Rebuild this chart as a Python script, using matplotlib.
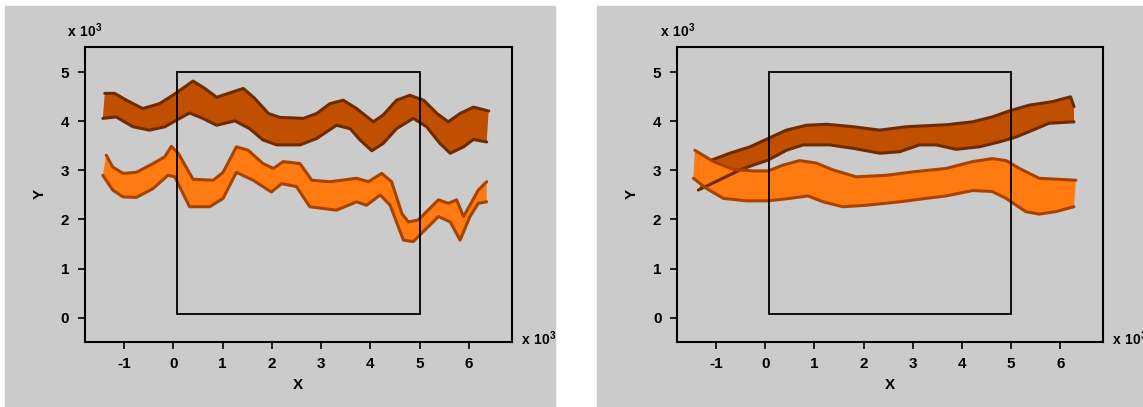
import matplotlib
matplotlib.use("Agg")
import matplotlib.pyplot as plt
from matplotlib.patches import Rectangle

plt.rcParams['font.family'] = ['Liberation Sans', 'DejaVu Sans']
plt.rcParams['font.weight'] = 'bold'
plt.rcParams['axes.unicode_minus'] = False
plt.rcParams['mathtext.fontset'] = 'custom'
plt.rcParams['mathtext.rm'] = 'Liberation Sans'
plt.rcParams['mathtext.bf'] = 'Liberation Sans:bold'

# values in units of 10^3
# left panel, dark band
l_dark_up_x = [-1.39, -1.19, -0.95, -0.62, -0.28, -0.01, 0.40, 0.64, 0.88, 1.15, 1.42, 1.65, 1.93, 2.16, 2.64, 2.91, 3.18, 3.45, 3.72, 4.06, 4.26, 4.53, 4.80, 5.08, 5.35, 5.58, 5.82, 6.09, 6.40]
l_dark_up_y = [4.57, 4.57, 4.43, 4.26, 4.36, 4.53, 4.82, 4.67, 4.49, 4.58, 4.67, 4.47, 4.16, 4.08, 4.06, 4.16, 4.36, 4.43, 4.26, 3.99, 4.13, 4.43, 4.53, 4.43, 4.16, 3.99, 4.16, 4.29, 4.21]
l_dark_lo_x = [-1.43, -1.16, -0.82, -0.48, -0.17, 0.06, 0.33, 0.60, 0.88, 1.25, 1.55, 1.82, 2.10, 2.57, 2.91, 3.31, 3.59, 3.79, 4.03, 4.26, 4.53, 4.87, 5.14, 5.41, 5.62, 5.89, 6.09, 6.36]
l_dark_lo_y = [4.06, 4.09, 3.89, 3.82, 3.89, 4.02, 4.17, 4.06, 3.92, 4.01, 3.85, 3.62, 3.52, 3.52, 3.65, 3.92, 3.85, 3.62, 3.40, 3.55, 3.85, 4.06, 3.89, 3.55, 3.35, 3.48, 3.63, 3.58]

# left panel, orange band
l_or_up_x = [-1.36, -1.23, -1.02, -0.75, -0.41, -0.17, -0.04, 0.10, 0.40, 0.81, 1.01, 1.28, 1.52, 1.82, 2.03, 2.23, 2.57, 2.81, 3.18, 3.72, 3.96, 4.23, 4.43, 4.64, 4.77, 4.97, 5.38, 5.58, 5.75, 5.89, 6.19, 6.36]
l_or_up_y = [3.31, 3.07, 2.94, 2.96, 3.14, 3.28, 3.49, 3.35, 2.82, 2.80, 2.96, 3.48, 3.41, 3.14, 3.04, 3.18, 3.14, 2.80, 2.77, 2.84, 2.77, 2.94, 2.77, 2.12, 1.95, 1.99, 2.40, 2.33, 2.40, 2.06, 2.60, 2.77]
l_or_lo_x = [-1.43, -1.23, -1.02, -0.75, -0.41, -0.11, 0.03, 0.33, 0.74, 1.01, 1.28, 1.62, 1.99, 2.20, 2.50, 2.77, 3.31, 3.72, 3.92, 4.20, 4.40, 4.67, 4.87, 5.14, 5.38, 5.62, 5.82, 6.02, 6.19, 6.36]
l_or_lo_y = [2.90, 2.60, 2.46, 2.45, 2.63, 2.90, 2.87, 2.26, 2.26, 2.43, 2.96, 2.80, 2.56, 2.73, 2.67, 2.26, 2.19, 2.36, 2.29, 2.50, 2.29, 1.58, 1.55, 1.82, 2.06, 1.95, 1.58, 2.06, 2.33, 2.36]

# right panel, dark band
r_dark_up_x = [-1.09, -0.72, -0.31, 0.06, 0.43, 0.84, 1.25, 1.79, 2.33, 2.87, 3.68, 4.22, 4.62, 4.96, 5.37, 5.84, 6.21, 6.28]
r_dark_up_y = [3.21, 3.35, 3.48, 3.65, 3.82, 3.92, 3.94, 3.89, 3.82, 3.89, 3.93, 3.99, 4.09, 4.21, 4.33, 4.40, 4.50, 4.30]
r_dark_lo_x = [-1.36, -0.51, -0.24, 0.06, 0.43, 0.77, 1.31, 1.79, 2.33, 2.73, 3.14, 3.48, 3.88, 4.35, 4.76, 5.10, 5.44, 5.77, 6.28]
r_dark_lo_y = [2.60, 3.01, 3.11, 3.21, 3.41, 3.52, 3.52, 3.45, 3.35, 3.38, 3.52, 3.52, 3.43, 3.48, 3.58, 3.68, 3.82, 3.96, 3.99]

# right panel, orange band
r_or_up_x = [-1.43, -1.05, -0.65, -0.24, 0.06, 0.37, 0.70, 1.04, 1.38, 1.85, 2.46, 3.00, 3.68, 4.22, 4.62, 4.90, 5.17, 5.57, 6.32]
r_or_up_y = [3.41, 3.18, 3.02, 2.99, 2.99, 3.11, 3.20, 3.15, 3.01, 2.87, 2.90, 2.97, 3.04, 3.18, 3.24, 3.20, 3.04, 2.84, 2.80]
r_or_lo_x = [-1.46, -1.19, -0.85, -0.38, 0.06, 0.50, 0.87, 1.18, 1.58, 2.06, 2.73, 3.27, 3.68, 4.22, 4.62, 4.90, 5.30, 5.57, 5.91, 6.28]
r_or_lo_y = [2.84, 2.63, 2.43, 2.38, 2.38, 2.43, 2.48, 2.36, 2.26, 2.29, 2.36, 2.43, 2.48, 2.59, 2.57, 2.43, 2.16, 2.11, 2.16, 2.26]

ticks = [-1, 0, 1, 2, 3, 4, 5, 6]
yticks = [0, 1, 2, 3, 4, 5]
inner = (0.08, 0.08, 5.0, 5.0)

GRAY = '#cbcbcb'
DARK_FILL, DARK_EDGE = '#c04f00', '#6e2a00'
OR_FILL, OR_EDGE = '#ff7a10', '#a84200'


def band(ax, ux, uy, lx, ly, fill, edge):
    ax.fill(ux + lx[::-1], uy + ly[::-1], color=fill, lw=0)
    ax.plot(ux, uy, color=edge, lw=2.2, solid_joinstyle='round', solid_capstyle='round')
    ax.plot(lx, ly, color=edge, lw=2.2, solid_joinstyle='round', solid_capstyle='round')


def setup(ax):
    ax.set_facecolor(GRAY)
    ax.set_xlim(-1.8, 6.87)
    ax.set_ylim(-0.49, 5.52)
    ax.set_xticks(ticks)
    ax.set_yticks(yticks)
    ax.tick_params(direction='out', length=5, width=1.2, labelsize=11, pad=6)
    for s in ax.spines.values():
        s.set_linewidth(1.5)
    ax.set_xlabel('X', fontsize=11, fontweight='bold', labelpad=5)
    ax.set_ylabel('Y', fontsize=11, fontweight='bold', labelpad=10)
    ax.add_patch(Rectangle((inner[0], inner[1]), inner[2] - inner[0], inner[3] - inner[1],
                           fill=False, ec='black', lw=1.3, zorder=5))
    ax.text(-0.04, 1.033, r'$\mathbf{x\ 10^3}$', transform=ax.transAxes, fontsize=10,
            ha='left', va='baseline')
    ax.text(1.022, -0.012, r'$\mathbf{x\ 10^3}$', transform=ax.transAxes, fontsize=10,
            ha='left', va='baseline')


fig = plt.figure(figsize=(11.43, 4.07), dpi=100)
fig.patch.set_facecolor('white')
fig.patches.append(Rectangle((5 / 1143, 0), 550 / 1143, 401 / 407, transform=fig.transFigure,
                             color=GRAY, zorder=-10))
fig.patches.append(Rectangle((597 / 1143, 0), 546 / 1143, 401 / 407, transform=fig.transFigure,
                             color=GRAY, zorder=-10))

ax1 = fig.add_axes([0.074, 0.1604, 0.3738, 0.7248])
setup(ax1)
band(ax1, l_dark_up_x, l_dark_up_y, l_dark_lo_x, l_dark_lo_y, DARK_FILL, DARK_EDGE)
band(ax1, l_or_up_x, l_or_up_y, l_or_lo_x, l_or_lo_y, OR_FILL, OR_EDGE)

ax2 = fig.add_axes([0.592, 0.1604, 0.373, 0.7248])
setup(ax2)
band(ax2, r_dark_up_x, r_dark_up_y, r_dark_lo_x, r_dark_lo_y, DARK_FILL, DARK_EDGE)
band(ax2, r_or_up_x, r_or_up_y, r_or_lo_x, r_or_lo_y, OR_FILL, OR_EDGE)

fig.savefig('out.png', dpi=100)
